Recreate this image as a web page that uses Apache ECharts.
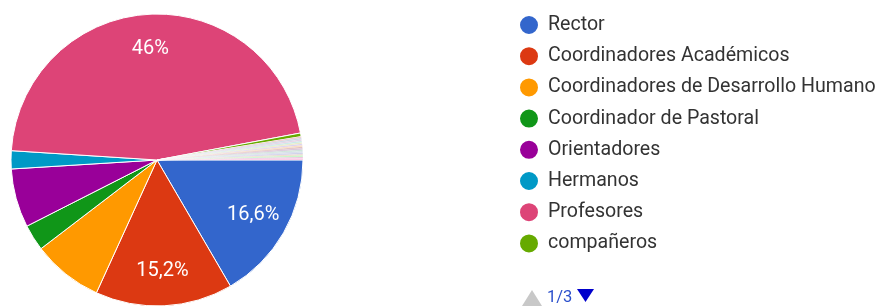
<!DOCTYPE html>
<html>
<head>
<meta charset="utf-8">
<script src="https://cdn.jsdelivr.net/npm/echarts@6/dist/echarts.min.js"></script>
<style>
    html, body { margin: 0; padding: 0; background: #fff; }
    #pie1 { width: 878px; height: 306px; }
</style>
</head>
<body>
<div id="pie1"></div>
<script>
// categories (page 1 of the legend is visible, pages 2-3 are hidden answers)
var categories = ['Rector', 'Coordinadores Académicos', 'Coordinadores de Desarrollo Humano',
    'Coordinador de Pastoral', 'Orientadores', 'Hermanos', 'Profesores', 'compañeros',
    'Respuesta 9', 'Respuesta 10', 'Respuesta 11', 'Respuesta 12', 'Respuesta 13', 'Respuesta 14',
    'Respuesta 15', 'Respuesta 16', 'Respuesta 17', 'Respuesta 18', 'Respuesta 19', 'Respuesta 20',
    'Respuesta 21', 'Respuesta 22', 'Respuesta 23', 'Respuesta 24'];
// percent of answers
var values = [16.6, 15.2, 7.8, 2.9, 6.5, 2.0, 46.0, 0.4,
    0.16, 0.16, 0.16, 0.16, 0.16, 0.16, 0.16, 0.16,
    0.16, 0.16, 0.16, 0.16, 0.16, 0.16, 0.16, 0.16];
var colors = ['#3366cc', '#dc3912', '#ff9900', '#109618', '#990099', '#0099c6', '#dd4477', '#66aa00',
    '#b82e2e', '#316395', '#994499', '#22aa99', '#aaaa11', '#6633cc', '#e67300', '#8b0707',
    '#651067', '#329262', '#5574a6', '#3b3eac', '#b77322', '#16d620', '#b91383', '#f4359e'];
var perPage = 8;
var page = 1;
var pageCount = Math.ceil(categories.length / perPage);

var datas = categories.map(function (name, i) {
    var d = {name: name, value: values[i]};
    if (i >= perPage) {
        d.itemStyle = {opacity: 0.3}; // tiny slices, look almost white
    }
    return d;
});

var font = 'Roboto, Arial, sans-serif';

var optPie1 = {
    color: colors,
    animation: false,
    legend: {
        orient: 'vertical',
        left: 518,
        top: 14,
        padding: 0,
        icon: 'circle',
        itemWidth: 20,
        itemHeight: 20,
        itemGap: 9.2,
        textStyle: {color: '#333', fontSize: 19.6, fontFamily: font, lineHeight: 20, padding: [0, 0, 0, 4]},
        data: categories.slice((page - 1) * perPage, page * perPage)
    },
    // page controller of the legend
    graphic: [{
        type: 'polygon',
        shape: {points: [[522, 306], [532, 290], [542, 306]]},
        style: {fill: '#c8c8c8'}
    }, {
        type: 'text',
        left: 547,
        top: 289,
        style: {text: page + '/' + pageCount, fill: '#2a4fcc', font: '16.5px ' + font}
    }, {
        type: 'polygon',
        shape: {points: [[577, 289], [594, 289], [585.5, 302]]},
        style: {fill: '#0000cc'}
    }],
    series: [{
        name: 'pie',
        type: 'pie',
        center: [157, 160],
        radius: 146,
        startAngle: 0,
        clockwise: true,
        avoidLabelOverlap: false,
        itemStyle: {borderColor: '#fff', borderWidth: 1},
        label: {show: false},
        labelLine: {show: false},
        emphasis: {scale: false},
        data: datas
    }, {
        // transparent copy, only carries the percent labels
        name: 'labels',
        type: 'pie',
        center: [157, 160],
        radius: [70, 146],
        startAngle: 0,
        clockwise: true,
        silent: true,
        legendHoverLink: false,
        avoidLabelOverlap: false,
        percentPrecision: 1,
        itemStyle: {color: 'transparent', borderWidth: 0},
        label: {
            show: true,
            position: 'inside',
            color: '#fff',
            fontSize: 20,
            fontFamily: font,
            formatter: function (p) {
                return p.percent >= 10 ? String(p.percent).replace('.', ',') + '%' : '';
            }
        },
        labelLine: {show: false},
        emphasis: {disabled: true},
        data: datas
    }]
};

var chart = echarts.init(document.getElementById('pie1'));
chart.setOption(optPie1);
</script>
</body>
</html>
